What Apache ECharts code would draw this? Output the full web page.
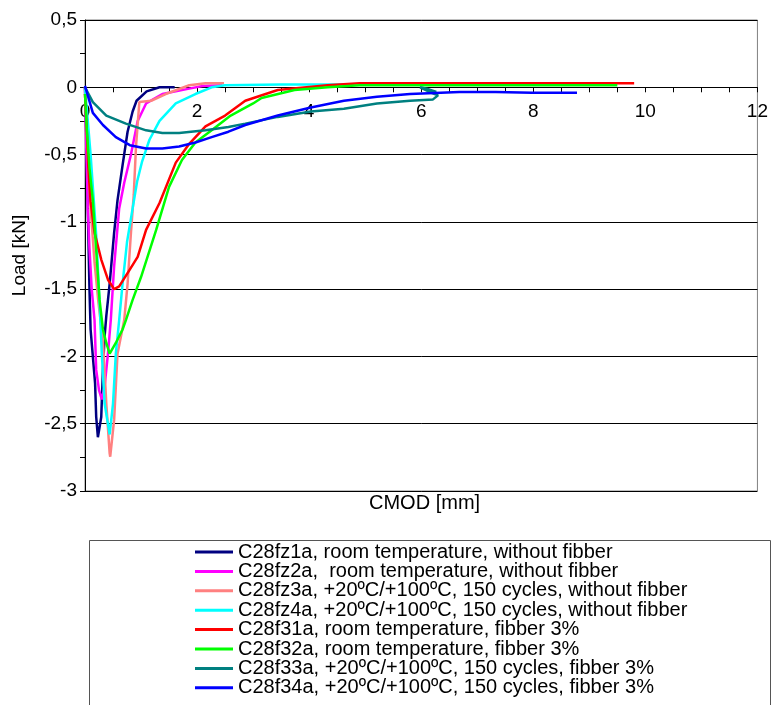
<!DOCTYPE html>
<html>
<head>
<meta charset="utf-8">
<script src="https://cdn.jsdelivr.net/npm/echarts@6/dist/echarts.min.js"></script>
<style>html,body{margin:0;padding:0;background:#fff}#c{width:771px;height:705px}</style>
</head>
<body>
<div id="c"></div>
<script>
// Series names
const seriesNames = [
  'C28fz1a, room temperature, without fibber',
  'C28fz2a,  room temperature, without fibber',
  'C28fz3a, +20ºC/+100ºC, 150 cycles, without fibber',
  'C28fz4a, +20ºC/+100ºC, 150 cycles, without fibber',
  'C28f31a, room temperature, fibber 3%',
  'C28f32a, room temperature, fibber 3%',
  'C28f33a, +20ºC/+100ºC, 150 cycles, fibber 3%',
  'C28f34a, +20ºC/+100ºC, 150 cycles, fibber 3%'
];
const seriesColors = ['#000080','#FF00FF','#FF8080','#00FFFF','#FF0000','#00FF00','#008080','#0000FF'];

// [CMOD mm, Load kN]
const c28fz1a = [[0,0],[0.02,-0.3],[0.04,-0.7],[0.06,-1.1],[0.08,-1.5],[0.1,-1.8],[0.14,-2.0],[0.18,-2.2],[0.2,-2.45],[0.23,-2.6],
  [0.29,-2.45],[0.32,-2.1],[0.35,-1.85],[0.38,-1.7],[0.44,-1.46],[0.52,-1.08],[0.58,-0.84],[0.67,-0.58],[0.76,-0.33],[0.85,-0.18],
  [0.92,-0.1],[1.1,-0.03],[1.33,0],[1.6,0]];
const c28fz2a = [[0,0],[0.02,-0.4],[0.05,-0.9],[0.08,-1.2],[0.12,-1.5],[0.17,-1.73],[0.2,-2.1],[0.25,-2.25],[0.3,-2.32],
  [0.35,-2.22],[0.41,-1.98],[0.46,-1.73],[0.52,-1.33],[0.61,-0.9],[0.7,-0.71],[0.82,-0.5],[0.94,-0.25],[1.09,-0.12],
  [1.38,-0.05],[1.86,-0.01],[2.1,0.01],[2.45,0.015]];
const c28fz3a = [[0,0],[0.05,-0.5],[0.1,-0.9],[0.17,-1.3],[0.24,-1.6],[0.32,-1.88],[0.38,-2.35],[0.44,-2.72],[0.45,-2.745],
  [0.52,-2.47],[0.58,-1.98],[0.7,-1.73],[0.76,-1.46],[0.82,-1.08],[0.87,-0.8],[0.91,-0.44],[0.97,-0.11],[1.18,-0.1],
  [1.44,-0.05],[1.86,0.015],[2.15,0.03],[2.48,0.03]];
const c28fz4a = [[0,0],[0.1,-0.5],[0.2,-1.1],[0.26,-1.6],[0.3,-1.98],[0.35,-2.35],[0.44,-2.58],[0.5,-2.35],[0.55,-1.98],
  [0.61,-1.73],[0.67,-1.46],[0.75,-1.15],[0.85,-0.9],[0.93,-0.7],[1.02,-0.55],[1.15,-0.39],[1.33,-0.25],[1.62,-0.12],
  [1.97,-0.05],[2.26,0],[2.5,0.015],[3.5,0.02],[4.8,0.02]];
const c28f31a = [[0,-0.05],[0.03,-0.3],[0.06,-0.6],[0.1,-0.85],[0.17,-1.08],[0.29,-1.28],[0.41,-1.43],[0.52,-1.5],[0.61,-1.48],
  [0.79,-1.36],[0.94,-1.26],[1.09,-1.06],[1.33,-0.86],[1.62,-0.56],[1.86,-0.42],[2.15,-0.29],[2.5,-0.21],[2.86,-0.1],
  [3.44,-0.02],[4.33,0.015],[4.9,0.03],[7,0.03],[9.8,0.03]];
const c28f32a = [[0,-0.05],[0.03,-0.3],[0.08,-0.6],[0.14,-0.84],[0.2,-1.21],[0.26,-1.58],[0.32,-1.8],[0.38,-1.9],[0.44,-1.98],
  [0.55,-1.9],[0.67,-1.8],[0.73,-1.73],[0.85,-1.58],[1.0,-1.41],[1.27,-1.06],[1.5,-0.74],[1.73,-0.54],[1.97,-0.41],
  [2.26,-0.32],[2.6,-0.21],[3.0,-0.12],[3.15,-0.08],[3.74,-0.02],[4.33,0],[4.9,0.015],[7,0.015],[9.5,0.015]];
const c28f33a = [[0,0],[0.14,-0.11],[0.38,-0.21],[0.73,-0.27],[1.09,-0.32],[1.38,-0.34],[1.68,-0.34],[2.15,-0.32],[2.56,-0.295],
  [2.86,-0.27],[3.44,-0.22],[4.03,-0.18],[4.62,-0.16],[5.21,-0.12],[5.8,-0.1],[6.21,-0.09],[6.3,-0.06],[6.15,-0.035],
  [5.98,0],[6.1,-0.01],[6.27,-0.035]];
const c28f34a = [[0,0.01],[0.14,-0.19],[0.32,-0.28],[0.55,-0.37],[0.8,-0.43],[1.09,-0.455],[1.38,-0.455],[1.68,-0.44],
  [1.97,-0.41],[2.26,-0.37],[2.56,-0.33],[2.86,-0.28],[3.44,-0.21],[4.03,-0.15],[4.62,-0.1],[5.21,-0.07],[5.8,-0.05],
  [6.68,-0.035],[7.33,-0.035],[7.98,-0.04],[8.78,-0.04]];
const seriesData = [c28fz1a,c28fz2a,c28fz3a,c28fz4a,c28f31a,c28f32a,c28f33a,c28f34a];

const FONT = 'Liberation Sans, Arial, sans-serif';
const GRID_TOP = 20, GRID_BOTTOM = 214, CH = 705;
const Y_MIN = -3, Y_MAX = 0.5;
const plotH = CH - GRID_TOP - GRID_BOTTOM;
// move x axis up so that it sits on the y = 0 line
const xOffset = -plotH * (0 - Y_MIN) / (Y_MAX - Y_MIN);

const chart = echarts.init(document.getElementById('c'), null, {renderer:'canvas'});
chart.setOption({
  animation:false,
  backgroundColor:'#fff',
  grid:{left:85,right:8,top:GRID_TOP,bottom:GRID_BOTTOM,show:true,borderColor:'#808080',borderWidth:1,containLabel:false},
  xAxis:{type:'value',min:0,max:12,interval:2,position:'bottom',offset:xOffset,
    axisLine:{show:true,onZero:false,lineStyle:{color:'#000',width:1}},
    axisTick:{show:true,length:5,lineStyle:{color:'#000'}},
    minorTick:{show:true,splitNumber:4,length:5,lineStyle:{color:'#000'}},
    splitLine:{show:false},
    axisLabel:{color:'#000',fontSize:19,fontFamily:FONT,margin:15}
  },
  yAxis:{type:'value',min:Y_MIN,max:Y_MAX,interval:0.5,
    name:'Load [kN]',nameLocation:'middle',nameGap:56,nameRotate:90,
    nameTextStyle:{color:'#000',fontSize:19,fontFamily:FONT},
    axisLine:{show:true,lineStyle:{color:'#000',width:1}},
    axisTick:{show:true,length:5,lineStyle:{color:'#000'}},
    minorTick:{show:true,splitNumber:2,length:5,lineStyle:{color:'#000'}},
    splitLine:{show:true,lineStyle:{color:'#000',width:1}},
    axisLabel:{color:'#000',fontSize:19,fontFamily:FONT,margin:8,formatter:v=>String(v).replace('.',',')}
  },
  legend:{orient:'vertical',left:195,top:542,padding:0,height:180,icon:'rect',itemWidth:38,itemHeight:3,itemGap:-0.6,
    textStyle:{color:'#000',fontSize:20,fontFamily:FONT,lineHeight:19},
    data:seriesNames},
  graphic:[
    {type:'rect',left:87,top:538,shape:{width:681,height:200},style:{fill:'none',stroke:'#555',lineWidth:1},z:-1},
    {type:'text',left:369,top:493,style:{text:'CMOD [mm]',fill:'#000',font:'20px '+FONT}}
  ],
  series:seriesData.map((d,i)=>({
    name:seriesNames[i],type:'line',data:d,showSymbol:false,symbol:'none',smooth:false,
    lineStyle:{color:seriesColors[i],width:2.5},itemStyle:{color:seriesColors[i]},clip:true
  }))
});
</script>
</body>
</html>
